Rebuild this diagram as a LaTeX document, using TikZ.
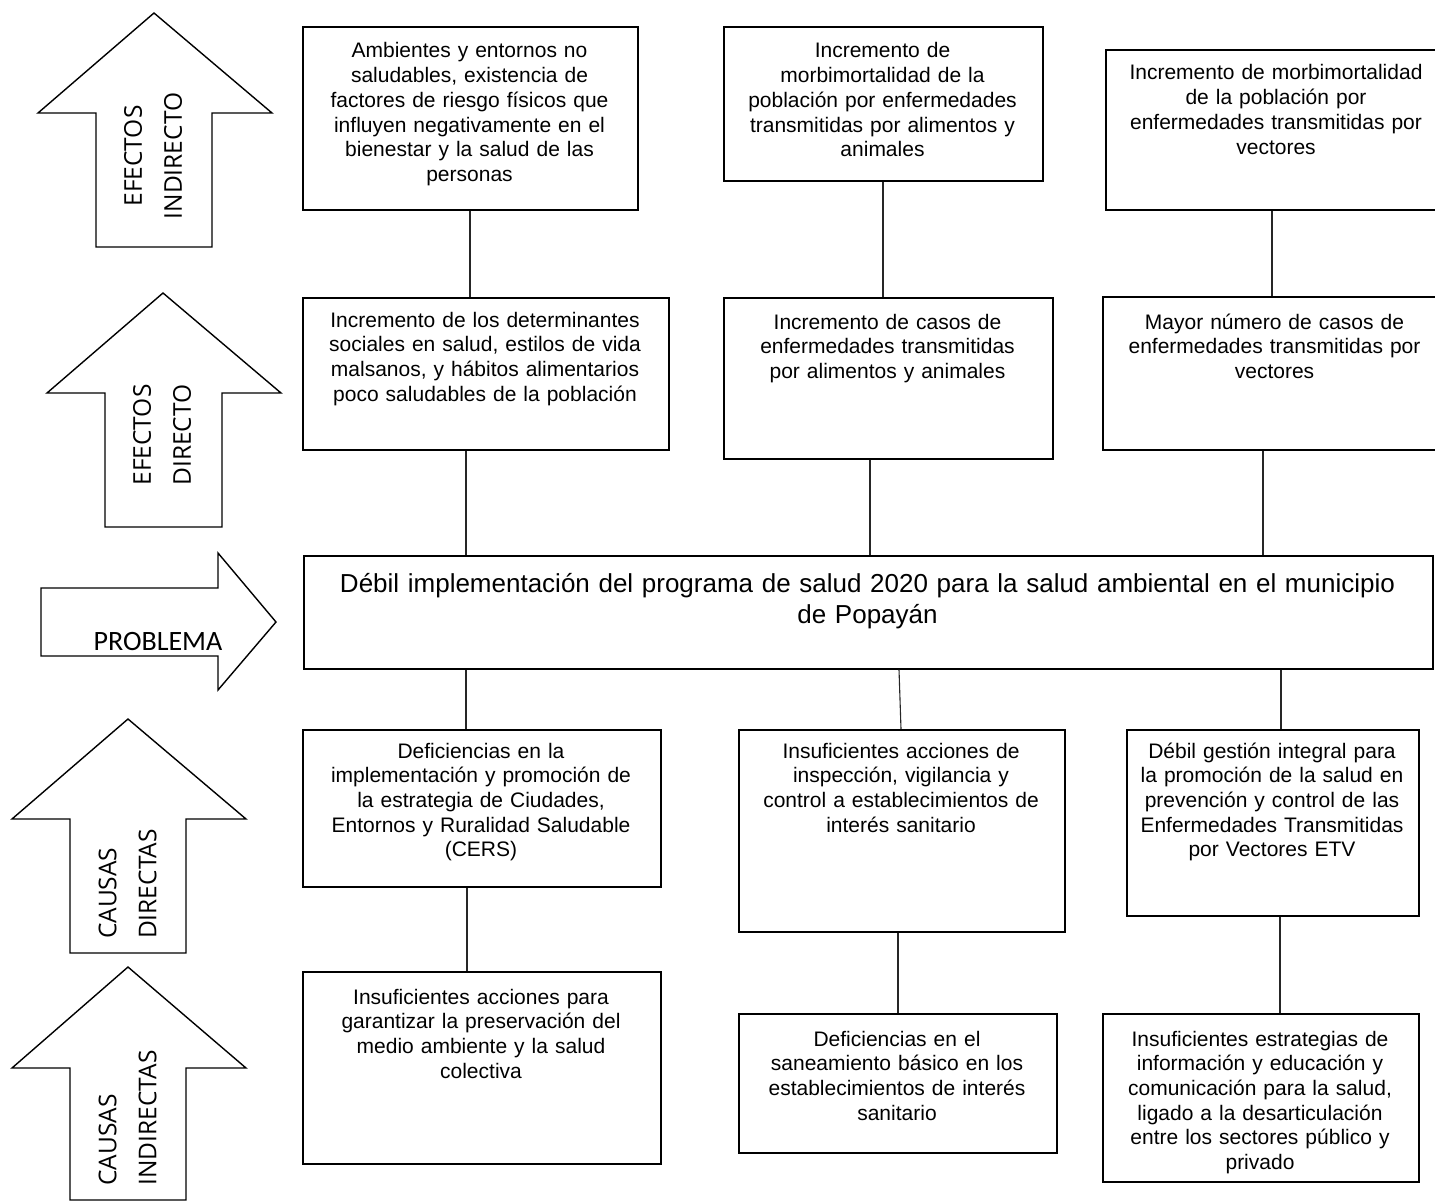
\documentclass[tikz,border=0pt]{standalone}
\usepackage{fontspec}
\setmainfont{Liberation Sans}
\newfontfamily\arwfont{Open Sans}
\newfontfamily\probfont{Carlito}
\begin{document}
\begin{tikzpicture}[x=1pt,y=-1pt,
  box/.style={draw=black, line width=1.6pt, rectangle, anchor=north west, inner sep=0pt},
  txt/.style={align=center, inner sep=0pt, anchor=base, font=\fontsize{21}{24.7}\selectfont},
  bigarrow/.style={draw=black, line width=1.4pt, line join=miter, fill=white},
  lab/.style={rotate=90, inner sep=0pt, font=\arwfont\fontsize{24.5}{40}\selectfont},
  link/.style={draw=black!85, line width=1.1pt}]
\clip (0,0) rectangle (1435,1201);
\fill[white] (0,0) rectangle (1435,1201);

% ---- left arrows ----
\draw[bigarrow] (154,13) -- (272,113) -- (212,113) -- (212,247) -- (96,247) -- (96,113) -- (38,113) -- cycle;
\node[lab, align=center] (l1) at (153,156) {EFECTOS\\INDIRECTO};

\draw[bigarrow] (163,293) -- (281,393) -- (222,393) -- (222,527) -- (105,527) -- (105,393) -- (47,393) -- cycle;
\node[lab, align=center] (l2) at (162,435) {EFECTOS\\DIRECTO};

\draw[bigarrow] (41,588) -- (218,588) -- (218,553) -- (276,622) -- (218,690) -- (218,656) -- (41,656) -- cycle;
\node[inner sep=0pt, anchor=base, font=\probfont\fontsize{28}{30}\selectfont] (l3) at (158,650) {PROBLEMA};

\draw[bigarrow] (128,719) -- (246,819) -- (186,819) -- (186,953) -- (70,953) -- (70,819) -- (12,819) -- cycle;
\node[lab, align=left] (l4) at (127.5,884) {CAUSAS\\DIRECTAS};

\draw[bigarrow] (128,967) -- (246,1068) -- (186,1068) -- (186,1200) -- (70,1200) -- (70,1068) -- (12,1068) -- cycle;
\node[lab, align=left] (l5) at (127.5,1118) {CAUSAS\\INDIRECTAS};

% ---- boxes ----
\node[box, minimum width=335pt, minimum height=183pt] (b1) at (302,26) {};
\node[txt, text width=380pt] (b1t) at (469.5,58) {Ambientes y entornos no\\saludables, existencia de\\factores de riesgo físicos que\\influyen negativamente en el\\bienestar y la salud de las\\personas};

\node[box, minimum width=319pt, minimum height=154pt] (b2) at (723,26) {};
\node[txt, text width=360pt] (b2t) at (882.5,58) {Incremento de\\morbimortalidad de la\\población por enfermedades\\transmitidas por alimentos y\\animales};

\node[box, minimum width=342pt, minimum height=160pt] (b3) at (1105,49) {};
\node[txt, text width=380pt] (b3t) at (1276,80) {Incremento de morbimortalidad\\de la población por\\enfermedades transmitidas por\\vectores};

\node[box, minimum width=366pt, minimum height=152pt] (c1) at (302,297) {};
\node[txt, text width=400pt] (c1t) at (485,327) {Incremento de los determinantes\\sociales en salud, estilos de vida\\malsanos, y hábitos alimentarios\\poco saludables de la población};

\node[box, minimum width=329pt, minimum height=161pt] (c2) at (723,297) {};
\node[txt, text width=370pt] (c2t) at (887.5,329) {Incremento de casos de\\enfermedades transmitidas\\por alimentos y animales};

\node[box, minimum width=345pt, minimum height=153pt] (c3) at (1102,296) {};
\node[txt, text width=380pt] (c3t) at (1274.5,329) {Mayor número de casos de\\enfermedades transmitidas por\\vectores};

\node[box, minimum width=1129pt, minimum height=113pt] (p) at (303,555) {};
\node[txt, text width=1150pt, font=\fontsize{26}{31}\selectfont] (pt) at (867.5,592) {Débil implementación del programa de salud 2020 para la salud ambiental en el municipio\\de Popayán};

\node[box, minimum width=358pt, minimum height=157pt] (d1) at (302,729) {};
\node[txt, text width=400pt] (d1t) at (481,758) {Deficiencias en la\\implementación y promoción de\\la estrategia de Ciudades,\\Entornos y Ruralidad Saludable\\(CERS)};

\node[box, minimum width=326pt, minimum height=202pt] (d2) at (738,729) {};
\node[txt, text width=370pt] (d2t) at (901,758) {Insuficientes acciones de\\inspección, vigilancia y\\control a establecimientos de\\interés sanitario};

\node[box, minimum width=292pt, minimum height=186pt] (d3) at (1126,729) {};
\node[txt, text width=340pt] (d3t) at (1272,758) {Débil gestión integral para\\la promoción de la salud en\\prevención y control de las\\Enfermedades Transmitidas\\por Vectores ETV};

\node[box, minimum width=358pt, minimum height=192pt] (e1) at (302,971) {};
\node[txt, text width=400pt] (e1t) at (481,1004) {Insuficientes acciones para\\garantizar la preservación del\\medio ambiente y la salud\\colectiva};

\node[box, minimum width=318pt, minimum height=139pt] (e2) at (738,1013) {};
\node[txt, text width=360pt] (e2t) at (897,1046) {Deficiencias en el\\saneamiento básico en los\\establecimientos de interés\\sanitario};

\node[box, minimum width=316pt, minimum height=168pt] (e3) at (1102,1013) {};
\node[txt, text width=360pt] (e3t) at (1260,1046) {Insuficientes estrategias de\\información y educación y\\comunicación para la salud,\\ligado a la desarticulación\\entre los sectores público y\\privado};

% ---- connectors ----
\coordinate (k1) at (470,0);
\coordinate (k2) at (883,0);
\coordinate (k3) at (1272,0);
\coordinate (k4) at (466,0);
\coordinate (k5) at (870,0);
\coordinate (k6) at (1263,0);
\coordinate (k7) at (466,0);
\coordinate (k8a) at (899,0);
\coordinate (k8b) at (901,0);
\coordinate (k9) at (1281,0);
\coordinate (k10) at (467,0);
\coordinate (k11) at (898,0);
\coordinate (k12) at (1280,0);
\draw[link] (b1.south -| k1) -- (c1.north -| k1);
\draw[link] (b2.south -| k2) -- (c2.north -| k2);
\draw[link] (b3.south -| k3) -- (c3.north -| k3);
\draw[link] (c1.south -| k4) -- (p.north -| k4);
\draw[link] (c2.south -| k5) -- (p.north -| k5);
\draw[link] (c3.south -| k6) -- (p.north -| k6);
\draw[link] (p.south -| k7) -- (d1.north -| k7);
\draw[link] (p.south -| k8a) -- (d2.north -| k8b);
\draw[link] (p.south -| k9) -- (d3.north -| k9);
\draw[link] (d1.south -| k10) -- (e1.north -| k10);
\draw[link] (d2.south -| k11) -- (e2.north -| k11);
\draw[link] (d3.south -| k12) -- (e3.north -| k12);
\end{tikzpicture}
\end{document}
